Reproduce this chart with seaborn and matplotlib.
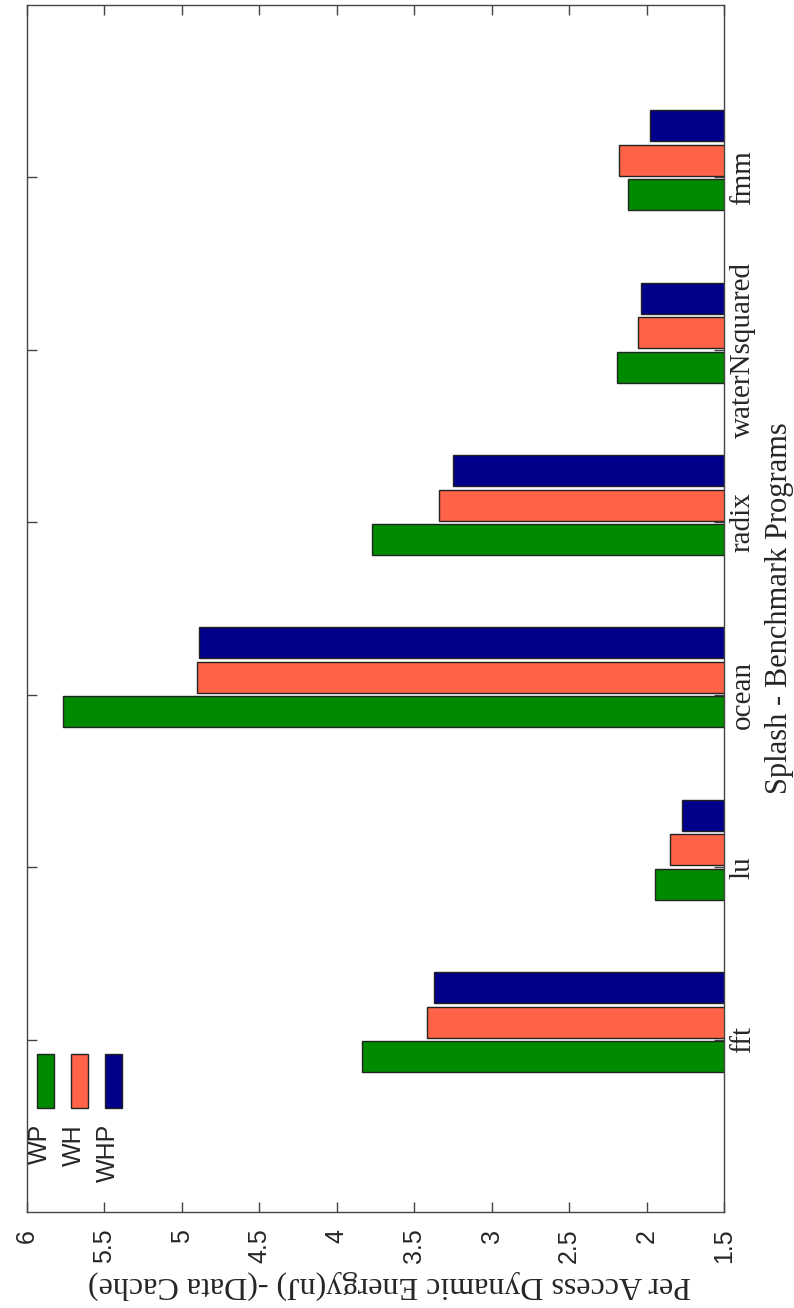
import pandas as pd
import matplotlib
matplotlib.use('Agg')
from matplotlib import pyplot as plt
from matplotlib.patches import Rectangle
import seaborn as sns

programs = ['fft', 'lu', 'ocean', 'radix', 'waterNsquared', 'fmm']
schemes = ['WP', 'WH', 'WHP']
wp = [3.84, 1.945, 5.77, 3.775, 2.19, 2.12]
wh = [3.42, 1.85, 4.90, 3.34, 2.055, 2.18]
whp = [3.37, 1.77, 4.89, 3.25, 2.035, 1.98]
colors = ['#008a00', '#ff6347', '#00008b']
value_ticks = [1.5, 2, 2.5, 3, 3.5, 4, 4.5, 5, 5.5, 6]

rows = []
for name, vals in zip(schemes, [wp, wh, whp]):
    for prog, v in zip(programs, vals):
        rows.append({'program': prog, 'scheme': name, 'energy': v})
df = pd.DataFrame(rows)

sns.set_style('white')
serif = ['Liberation Serif', 'DejaVu Serif']
sans = ['Liberation Sans', 'DejaVu Sans']

fig = plt.figure(figsize=(7.94, 13.08), dpi=100)
ax = fig.add_axes([0.034, 0.0734, 0.878, 0.9228])

sns.barplot(data=df, y='program', x='energy', hue='scheme', orient='h',
            order=programs, hue_order=schemes, palette=colors, saturation=1,
            width=0.6, gap=0.1, edgecolor='#222222', linewidth=1,
            legend=False, ax=ax)

ax.set_xlim(6, 1.5)
ax.set_ylim(-1.1, 5.9)
ax.set_yticks([i - 0.1 for i in range(len(programs))])
ax.set_yticklabels(programs)
ax.set_xticks(value_ticks)
ax.set_xticklabels([f'{t:g}' for t in value_ticks])

ax.tick_params(axis='y', left=True, right=True, labelleft=False, labelright=True,
               direction='in', length=7, width=1, color='#444444', pad=4)
ax.tick_params(axis='x', bottom=True, top=True, direction='in', length=7,
               width=1, color='#444444', pad=12)
for lab in ax.get_yticklabels():
    lab.set_rotation(90)
    lab.set_va('center')
    lab.set_ha('left')
    lab.set_fontfamily(serif)
    lab.set_fontsize(21)
for lab in ax.get_xticklabels():
    lab.set_rotation(90)
    lab.set_ha('center')
    lab.set_va('top')
    lab.set_fontfamily(sans)
    lab.set_fontsize(18)

for sp in ax.spines.values():
    sp.set_color('#444444')
    sp.set_linewidth(1)

ax.yaxis.set_label_position('right')
ax.set_ylabel('Splash - Benchmark Programs', fontsize=22, family=serif,
              rotation=90, labelpad=7)
ax.set_xlabel('Per Access Dynamic Energy(nJ) -(Data Cache)', fontsize=23,
              family=serif, rotation=180)
ax.xaxis.set_label_coords(0.52, -0.048)

# legend: handles above rotated labels
for k, (name, col) in enumerate(zip(schemes, colors)):
    x0 = 0.0143 + k * 0.0488
    ax.add_patch(Rectangle((x0, 0.0862), 0.0244, 0.0447, transform=ax.transAxes,
                           facecolor=col, edgecolor='#222222', linewidth=1,
                           clip_on=False))
    ax.text(x0 + 0.0122 - 0.008, 0.073, name, transform=ax.transAxes,
            rotation=90, ha='center', va='top', fontsize=18, family=sans)

fig.savefig('out.png', dpi=100)
